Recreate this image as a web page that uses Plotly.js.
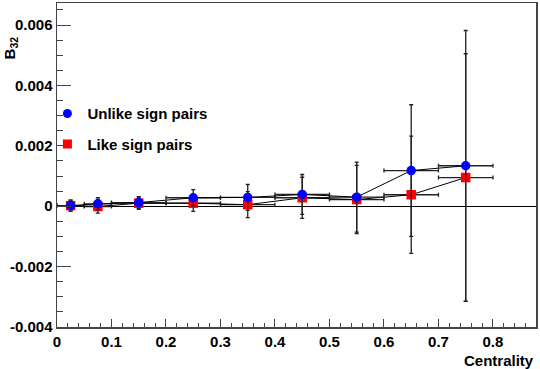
<!DOCTYPE html>
<html>
<head>
<meta charset="utf-8">
<script src="https://cdn.plot.ly/plotly-3.0.1.min.js"></script>
<style>html,body{margin:0;padding:0;background:#fff;}#chart{width:540px;height:369px;}</style>
</head>
<body>
<div id="chart"></div>
<script>
// Centrality bin centres and half-widths
const centrality = [0.025, 0.075, 0.15, 0.25, 0.35, 0.45, 0.55, 0.65, 0.75];
const binHalfWidth = [0.025, 0.025, 0.05, 0.05, 0.05, 0.05, 0.05, 0.05, 0.05];

// Unlike sign pairs
const unlikeB32 = [0.00002, 0.00008, 0.00012, 0.00028, 0.00029, 0.00039, 0.00030, 0.00118, 0.00134];
const unlikeErr = [0.00018, 0.00020, 0.00020, 0.00027, 0.00043, 0.00066, 0.00116, 0.00218, 0.00448];

// Like sign pairs
const likeB32 = [0.00002, -0.00001, 0.00010, 0.00010, 0.00005, 0.00028, 0.00022, 0.00038, 0.00095];
const likeErr = [0.00018, 0.00022, 0.00020, 0.00027, 0.00043, 0.00068, 0.00113, 0.00194, 0.00410];

const seriesNames = ["Unlike sign pairs", "Like sign pairs"];

const yTickVals = [-0.004, -0.002, 0, 0.002, 0.004, 0.006];
const yTickText = ["-0.004", "-0.002", "0", "0.002", "0.004", "0.006"];
const xTickVals = [0, 0.1, 0.2, 0.3, 0.4, 0.5, 0.6, 0.7, 0.8];
const xTickText = ["0", "0.1", "0.2", "0.3", "0.4", "0.5", "0.6", "0.7", "0.8"];

const FONT = "Liberation Sans, Arial, Helvetica, sans-serif";
const errStyle = {type: 'data', color: '#222', thickness: 1.3, width: 2};

function seriesTrace(y, err, color, symbol) {
  return {
    x: centrality, y: y, type: 'scatter', mode: 'lines+markers',
    line: {color: '#000', width: 1},
    marker: {color: color, symbol: symbol, size: 9.5},
    error_y: Object.assign({array: err, visible: true}, errStyle),
    error_x: Object.assign({array: binHalfWidth, visible: true}, errStyle),
    showlegend: false, hoverinfo: 'skip'
  };
}
function legendTrace(name, color, symbol, group) {
  return {
    x: [null], y: [null], type: 'scatter', mode: 'markers', name: name,
    marker: {color: color, symbol: symbol, size: 9}, legendgroup: group, showlegend: true
  };
}

const data = [
  seriesTrace(likeB32, likeErr, '#ff0000', 'square'),
  seriesTrace(unlikeB32, unlikeErr, '#0000ff', 'circle'),
  legendTrace(seriesNames[0], '#0000ff', 'circle', 'a'),
  legendTrace(seriesNames[1], '#ff0000', 'square', 'b')
];

const axisCommon = {
  showline: true, mirror: true, linecolor: '#444', linewidth: 1.5,
  showgrid: false, ticks: 'inside', tickcolor: '#444', tickwidth: 1,
  tickfont: {family: FONT, size: 15, weight: 'bold', color: '#000'}
};

const layout = {
  width: 540, height: 369,
  margin: {l: 57, r: 4, t: 3, b: 42},
  paper_bgcolor: '#fff', plot_bgcolor: '#fff',
  xaxis: Object.assign({}, axisCommon, {
    range: [0, 0.879], tickmode: 'array', tickvals: xTickVals, ticktext: xTickText,
    ticklen: 8, zeroline: false,
    minor: {ticks: 'inside', dtick: 0.02, ticklen: 4, tickcolor: '#444', tickwidth: 1, showgrid: false}
  }),
  yaxis: Object.assign({}, axisCommon, {
    range: [-0.004, 0.00673], tickmode: 'array', tickvals: yTickVals, ticktext: yTickText,
    ticklen: 14, zeroline: true, zerolinecolor: '#000', zerolinewidth: 1,
    minor: {ticks: 'inside', dtick: 0.0005, ticklen: 6, tickcolor: '#444', tickwidth: 1, showgrid: false}
  }),
  legend: {
    x: -0.02, y: 0.709, xanchor: 'left', yanchor: 'top',
    bgcolor: 'rgba(0,0,0,0)', borderwidth: 0, tracegroupgap: 8,
    font: {family: FONT, size: 15, weight: 'bold', color: '#000'}
  },
  annotations: [
    {text: 'Centrality', xref: 'paper', yref: 'paper', x: 1, y: -0.102, xanchor: 'right', yanchor: 'middle',
     showarrow: false, font: {family: FONT, size: 15, weight: 'bold', color: '#000'}},
    {text: 'B<sub>32</sub>', xref: 'paper', yref: 'paper', x: -0.098, y: 0.86, xanchor: 'center', yanchor: 'middle',
     textangle: -90, showarrow: false, font: {family: FONT, size: 15, weight: 'bold', color: '#000'}}
  ]
};

Plotly.newPlot('chart', data, layout, {displayModeBar: false, staticPlot: true});
</script>
</body>
</html>
